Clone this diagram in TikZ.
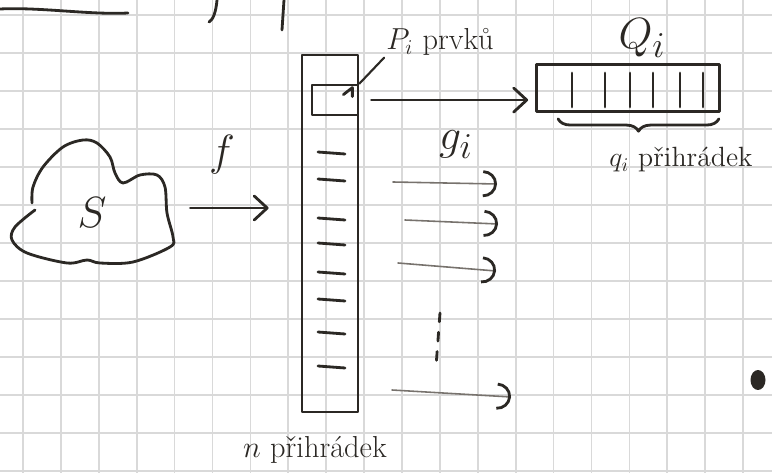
\documentclass[tikz,border=0pt]{standalone}
\usepackage{tikz}
\usetikzlibrary{arrows.meta,positioning,calc,decorations.pathreplacing}
\definecolor{inkdark}{HTML}{2B2824}
\definecolor{inkgrey}{HTML}{77726D}
\definecolor{gridgrey}{HTML}{D9D9D9}
\tikzset{
  pen/.style={draw=inkdark, line width=1.6pt, line cap=round, line join=round},
  slot/.style={pen, minimum width=9.2mm, minimum height=6mm, inner sep=0pt},
  hand/.style={text=inkdark, font=\Large, inner sep=1pt},
  flow/.style={pen, -{Straight Barb[length=2.6mm, width=4.8mm, round]}},
  thinflow/.style={draw=inkgrey, line width=0.9pt, line cap=round,
                   -{Arc Barb[length=2.8mm, width=5.4mm, line width=1.6pt, color=inkdark]}},
  gridline/.style={draw=gridgrey, line width=1pt},
}

\begin{document}
\begin{tikzpicture}[x=0.02cm, y=-0.02cm]
\useasboundingbox (0,0) rectangle (772,473);
\fill[white] (0,0) rectangle (772,473);
\foreach \k in {0,...,19} \draw[gridline] ({23+37.9*\k},0) -- ({23+37.9*\k},473);
\foreach \k in {0,...,12} \draw[gridline] (0,{15+38*\k}) -- (772,{15+38*\k});

\draw[pen] (0,9) .. controls (40,7) and (90,15) .. (128,13);
\draw[pen] (217,0) .. controls (216,12) and (213,20) .. (209,22);
\draw[pen] (284,0) -- (282,30);

\draw[pen] plot[smooth, tension=0.55] coordinates {(35,210) (15,227) (12,240) (27,253) (67,263)
  (87,260) (100,263) (133,262) (170,247) (173,237) (167,213) (165,187) (157,175) (140,175)
  (123,183) (115,173) (110,157) (97,143) (83,140) (63,147) (43,167) (33,187) (32,203)};
\node[hand, font=\Huge] (set) at (92,213) {$S$};
\node[minimum width=3.2cm, minimum height=2.5cm] (cloud) at (93,208) {};

\node[pen, minimum width=11.2mm, minimum height=71.4mm, inner sep=0pt] (arr) at (330,233.5) {};
\node[slot, anchor=north east] (cell) at ($(arr.north east)+(0,30)$) {};
\draw[pen] ($(cell.north east)+(-16,11)$) -- ++(9,-7) -- ++(0,9);
\foreach \y in {152,179,218,243,272,299,332,366} \draw[pen] (318,\y) -- (345,\y+2);

\node[hand, font=\Huge] (fl) at (222,155) {$f$};
\draw[flow, shorten <=3.4mm, shorten >=6.4mm] (cloud.east) -- (cloud.east -| arr.west);

\node[hand, font=\LARGE] (pl) at (440,42) {$P_i$ prvků};
\draw[pen, line width=1.2pt] (cell.north east) -- (pl.south west);

\node[pen, minimum width=36.6mm, minimum height=9.4mm, inner sep=0pt] (queue) at (628,88) {};
\foreach \x in {572,605,630,653,680,703} \draw[pen] (\x,73) -- (\x,107);
\node[hand, font=\Huge] (ql) at (642,38) {$Q_i$};
\draw[pen, decorate, decoration={brace, amplitude=7pt, mirror}]
  ($(queue.south west)+(23,6)$) -- ($(queue.south east)+(-2,6)$);
\node[hand, scale=1.1] (qq) at (681,160) {$q_i$ přihrádek};

\draw[flow, shorten <=0.24cm, shorten >=0.14cm] (cell.east) -- (cell.east -| queue.west);
\node[hand, font=\Huge] (gl) at (456,145) {$g_i$};

\foreach \n/\xa/\ya/\xb/\yb in {1/393/182/497/184, 2/405/220/498/224, 3/398/263/496/271, 4/392/390/511/397}
{
  \coordinate (g\n a) at (\xa,\ya);
  \coordinate (g\n b) at (\xb,\yb);
  \draw[thinflow] (g\n a) -- (g\n b);
}
\coordinate (va) at (440,313);
\coordinate (vb) at (436,367);
\draw[pen, dash pattern=on 5pt off 6pt] (va) -- (vb);

\node[hand, font=\LARGE] (nl) at (315,450) {$n$ přihrádek};

\fill[inkdark] (758,380) ellipse [x radius=0.15cm, y radius=0.2cm];
\end{tikzpicture}
\end{document}
